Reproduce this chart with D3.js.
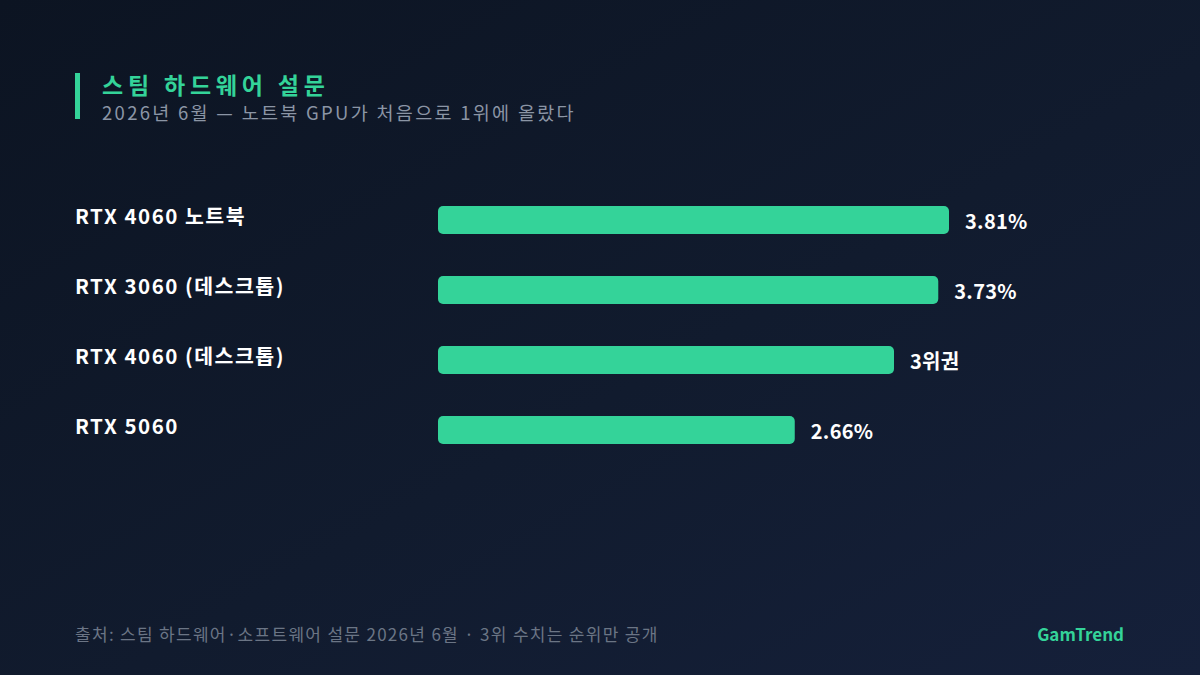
<!DOCTYPE html>
<html>
<head>
  <meta charset="utf-8">
  <title>steam survey</title>
  <script src="https://cdn.jsdelivr.net/npm/d3@7"></script>
  <style>
    body { margin:0; background:#0f1828; }
    text { font-family: "Noto Sans CJK KR", "Noto Sans", sans-serif; }
  </style>
</head>
<body>
  <svg width="1200" height="675" id="mainsvg"></svg>
  <script>
    // data
    const gpus = ['RTX 4060 노트북', 'RTX 3060 (데스크톱)', 'RTX 4060 (데스크톱)', 'RTX 5060'];
    const shares = [3.81, 3.73, 3.40, 2.66];   // 3rd is rank-only, estimated length
    const valueLabels = ['3.81%', '3.73%', '3위권', '2.66%'];

    let svg = d3.select('#mainsvg');
    const W = 1200, H = 675;

    let defs = svg.append('defs');
    let grad = defs.append('linearGradient').attr('id','bg')
      .attr('x1','0').attr('y1','0').attr('x2','1').attr('y2','1');
    grad.append('stop').attr('offset','0%').attr('stop-color','#0c1422');
    grad.append('stop').attr('offset','55%').attr('stop-color','#111b2e');
    grad.append('stop').attr('offset','100%').attr('stop-color','#15203a');
    svg.append('rect').attr('width',W).attr('height',H).attr('fill','url(#bg)');

    // header
    svg.append('rect').attr('x',75).attr('y',73).attr('width',5).attr('height',46).attr('fill','#34d399');
    svg.append('text').attr('x',102).attr('y',94).attr('fill','#34d399')
      .attr('font-size',23).attr('font-weight',700).attr('letter-spacing',4.8).text('스팀 하드웨어 설문');
    svg.append('text').attr('x',102).attr('y',120).attr('fill','#8b95a5')
      .attr('font-size',18.5).attr('letter-spacing',2.3).text('2026년 6월 — 노트북 GPU가 처음으로 1위에 올랐다');

    const x = d3.scaleLinear().domain([0, 3.81]).range([438, 949]);
    const y = d3.scaleBand().domain(gpus).range([206, 444]).paddingInner(0.6).paddingOuter(0);

    let g = svg.append('g');
    g.selectAll('rect.bar').data(gpus).enter().append('rect')
      .attr('class','bar')
      .attr('x', x(0))
      .attr('y', d => y(d))
      .attr('width', (d,i) => x(shares[i]) - x(0))
      .attr('height', y.bandwidth())
      .attr('rx', 5)
      .attr('fill', '#34d399');

    g.selectAll('text.name').data(gpus).enter().append('text')
      .attr('x', 75)
      .attr('y', d => y(d) + y.bandwidth()/2 - 3)
      .attr('dy','0.35em')
      .attr('fill','#ffffff').attr('font-size',20.5).attr('font-weight',700).attr('letter-spacing',1.5)
      .text(d => d);

    g.selectAll('text.val').data(gpus).enter().append('text')
      .attr('x', (d,i) => x(shares[i]) + 16)
      .attr('y', d => y(d) + y.bandwidth()/2 + 2)
      .attr('dy','0.35em')
      .attr('fill','#ffffff').attr('font-size',20).attr('font-weight',700).attr('letter-spacing',0.3)
      .text((d,i) => valueLabels[i]);

    // footer
    svg.append('text').attr('x',75).attr('y',641).attr('fill','#6b7585')
      .attr('font-size',17).attr('letter-spacing',1.3).text('출처: 스팀 하드웨어·소프트웨어 설문 2026년 6월 · 3위 수치는 순위만 공개');
    svg.append('text').attr('x',1124).attr('y',641).attr('text-anchor','end').attr('fill','#34d399')
      .attr('font-size',17).attr('font-weight',700).text('GamTrend');
  </script>
</body>
</html>
